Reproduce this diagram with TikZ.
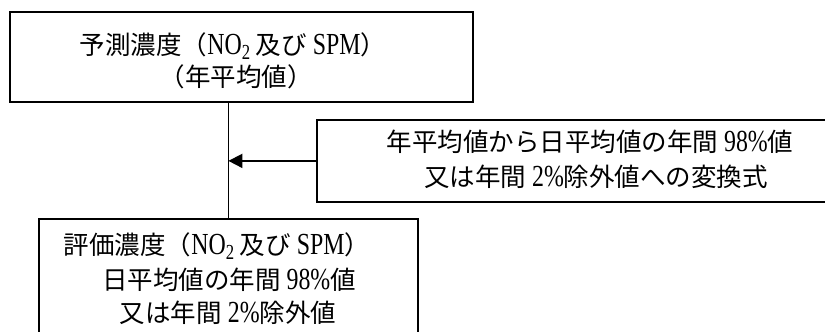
\documentclass[tikz,border=0pt]{standalone}
\usepackage{fontspec}
\setmainfont[Scale=1.2, FakeStretch=0.78]{Liberation Serif}
\newfontfamily\jp{Noto Sans CJK JP}
\usetikzlibrary{arrows.meta}
\begin{document}
\begin{tikzpicture}[x=1pt,y=-1pt,
  box/.style={draw, line width=1.8pt, rectangle, inner sep=0pt},
  txt/.style={font=\fontsize{25.5}{28}\selectfont, inner sep=0pt, anchor=base},
  conn/.style={line width=1.8pt},
  arr/.style={line width=1.8pt, -{Triangle[length=14pt,width=14pt]}}]
\useasboundingbox (0,0) rectangle (825,332);
\clip (0,0) rectangle (825,332);
\node[box, minimum width=463pt, minimum height=90pt, anchor=north west] (pred) at (9,11) {};
\node[box, minimum width=548pt, minimum height=82pt, anchor=north west] (conv) at (316,119) {};
\node[box, minimum width=379pt, minimum height=130pt, anchor=north west] (eval) at (38,218) {};
% texts
\node[txt] (p1) at (233,54) {{\jp 予測濃度（}NO\textsubscript{2}\,{\jp 及び} SPM{\jp ）}};
\node[txt] (p2) at (236,86) {{\jp （年平均値）}};
\node[txt] (c1) at (590,151) {{\jp 年平均値から日平均値の年間} 98\%{\jp 値}};
\node[txt] (c2) at (596,186) {{\jp 又は年間} 2\%{\jp 除外値への変換式}};
\node[txt] (e1) at (217,254) {{\jp 評価濃度（}NO\textsubscript{2}\,{\jp 及び} SPM{\jp ）}};
\node[txt] (e2) at (229,289) {{\jp 日平均値の年間} 98\%{\jp 値}};
\node[txt] (e3) at (228,322) {{\jp 又は年間} 2\%{\jp 除外値}};
% connectors
\draw[conn] (pred.south -| eval.north) -- (eval.north);
\draw[arr] (conv.west) -- (conv.west -| eval.north);
\end{tikzpicture}
\end{document}
